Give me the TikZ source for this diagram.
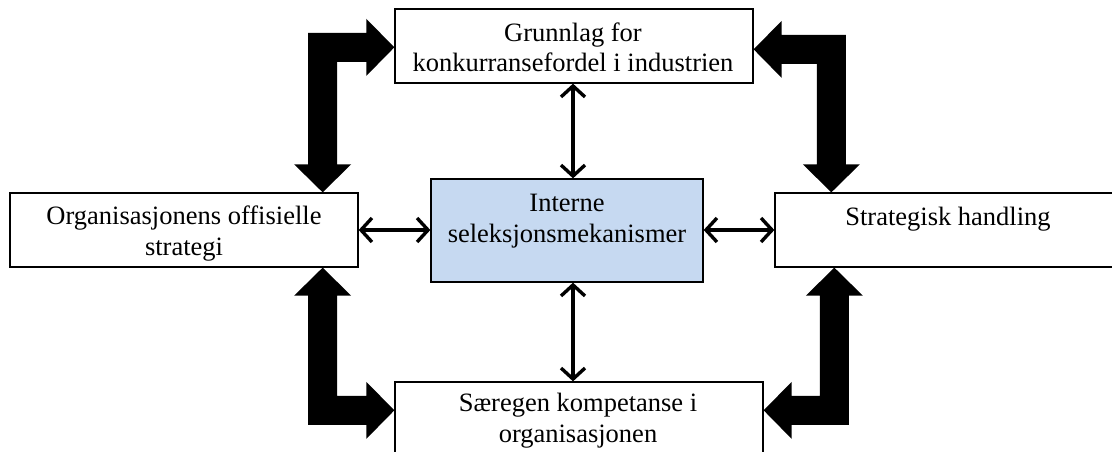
\documentclass[tikz,border=0pt]{standalone}
\usepackage{fontspec}
\setmainfont{Liberation Serif}
\usetikzlibrary{calc,arrows.meta}
\definecolor{cboxfill}{RGB}{198,217,241}
\def\arrhs{14.5}
\def\arrhw{28.5}
\def\arrhl{28}
\newcommand\bentarrow[4]{%
  \coordinate (bcorner) at (#1|-#2);
  \fill[black] ($(bcorner)+({-(#3)*\arrhs},{-(#4)*\arrhs})$)
   -- ($(#2)+({-(#3)*\arrhl},{-(#4)*\arrhs})$)
   -- ($(#2)+({-(#3)*\arrhl},{-(#4)*\arrhw})$)
   -- (#2)
   -- ($(#2)+({-(#3)*\arrhl},{(#4)*\arrhw})$)
   -- ($(#2)+({-(#3)*\arrhl},{(#4)*\arrhs})$)
   -- ($(bcorner)+({(#3)*\arrhs},{(#4)*\arrhs})$)
   -- ($(#1)+({(#3)*\arrhs},{-(#4)*\arrhl})$)
   -- ($(#1)+({(#3)*\arrhw},{-(#4)*\arrhl})$)
   -- (#1)
   -- ($(#1)+({-(#3)*\arrhw},{-(#4)*\arrhl})$)
   -- ($(#1)+({-(#3)*\arrhs},{-(#4)*\arrhl})$)
   -- cycle;}
\begin{document}
\begin{tikzpicture}[x=1pt,y=-1pt,
  box/.style={draw=black, line width=1.3pt, inner sep=0pt, fill=white},
  lbl/.style={font=\fontsize{26.5}{31}\selectfont, align=center, inner sep=0pt, anchor=base},
  barb/.tip={Straight Barb[length=11pt,width=24pt,line width=3.4pt]},
  thinarr/.style={line width=3.4pt, barb-barb}]
\useasboundingbox (0,0) rectangle (1112,452);
\clip (0,0) rectangle (1112,452);
\fill[white] (0,0) rectangle (1112,452);
% boxes
\node[box, minimum width=358pt, minimum height=74pt] (top) at (574,46) {};
\node[box, minimum width=348pt, minimum height=74pt] (left) at (184,230) {};
\node[box, fill=cboxfill, minimum width=272pt, minimum height=103pt] (center) at (567,230.5) {};
\node[box, minimum width=346pt, minimum height=74pt] (right) at (948,230) {};
\node[box, minimum width=368pt, minimum height=74pt] (bottom) at (579,419) {};
% labels (base = baseline of last line)
\node[lbl] (ltop) at (573,72) {Grunnlag for\\konkurransefordel i industrien};
\node[lbl] (lleft) at (184,255) {Organisasjonens offisielle\\strategi};
\node[lbl] (lcenter) at (567,242) {Interne\\seleksjonsmekanismer};
\node[lbl] (lright) at (948,225) {Strategisk handling};
\node[lbl] (lbottom) at (578,442) {Særegen kompetanse i\\organisasjonen};
% thin double arrows
\draw[thinarr] (top.south -| 573,0) -- (center.north -| 573,0);
\draw[thinarr] (center.south -| 573,0) -- (bottom.north -| 573,0);
\draw[thinarr] (left.east) -- (left.east -| center.west);
\draw[thinarr] (center.east |- right.west) -- (right.west);
% thick bent arrows
\coordinate (tlA) at ($(left.north east)+(-36,0)$);
\coordinate (tlB) at ($(top.north west)+(0,39)$);
\coordinate (trA) at ($(right.north west)+(57,0)$);
\coordinate (trB) at ($(top.north east)+(0,41)$);
\coordinate (blA) at ($(left.south east)+(-36,0)$);
\coordinate (blB) at ($(bottom.north west)+(0,29)$);
\coordinate (brA) at ($(right.south west)+(60,0)$);
\coordinate (brB) at ($(bottom.north east)+(0,29)$);
\bentarrow{tlA}{tlB}{1}{1}
\bentarrow{trA}{trB}{-1}{1}
\bentarrow{blA}{blB}{1}{-1}
\bentarrow{brA}{brB}{-1}{-1}
\end{tikzpicture}
\end{document}
